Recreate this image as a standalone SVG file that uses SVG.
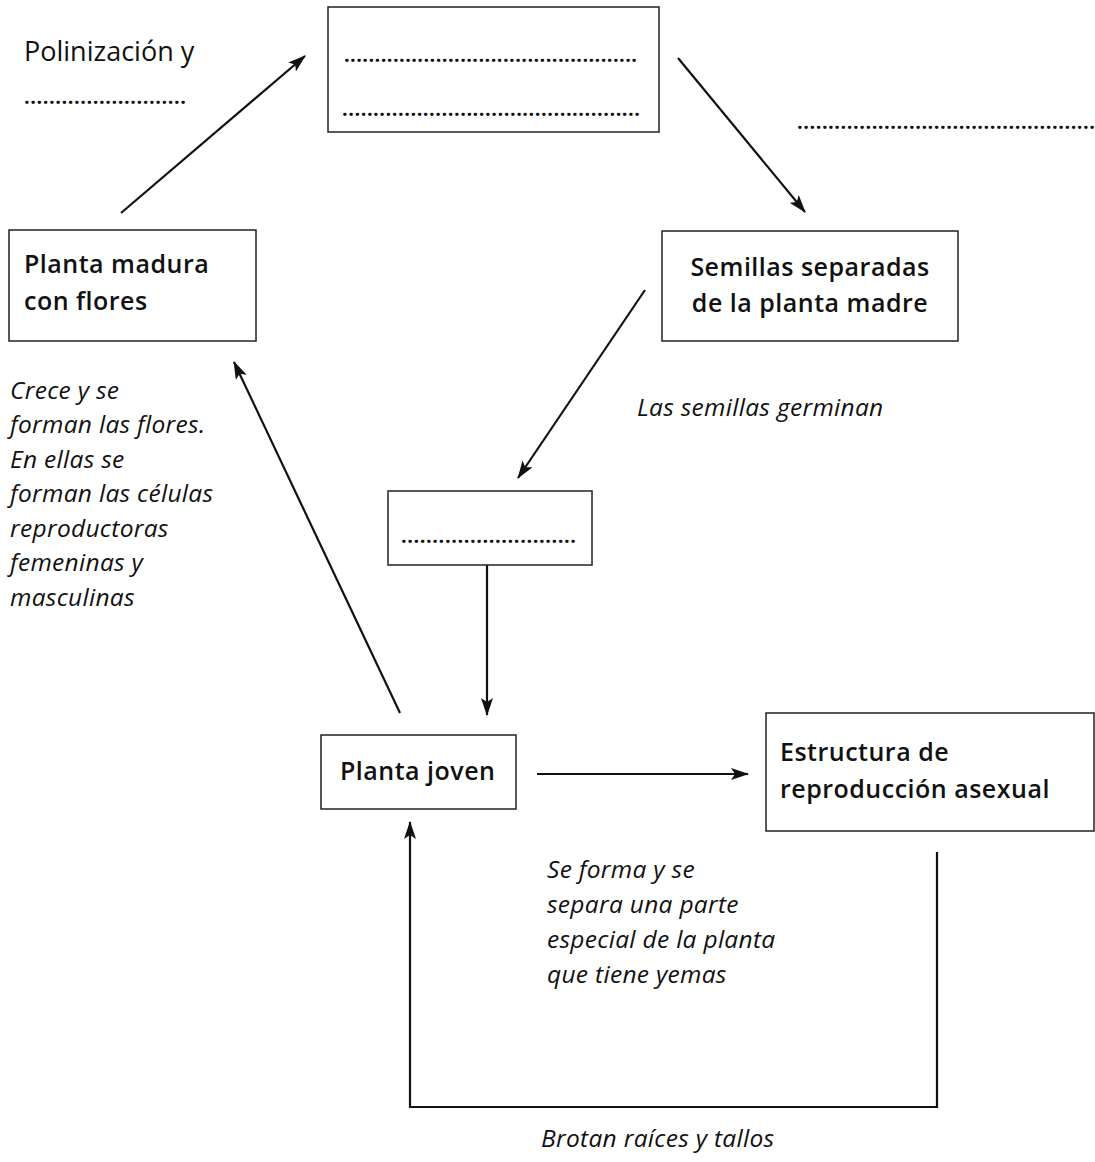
<svg xmlns="http://www.w3.org/2000/svg" width="1095" height="1162" viewBox="0 0 1095 1162">
<style>
.box{fill:#fff;stroke:#222;stroke-width:1.5}
.b{font-family:"Open Sans","Noto Sans",sans-serif;font-weight:600;font-size:25px;fill:#111;letter-spacing:0.5px}
.i{font-family:"Open Sans","Noto Sans",sans-serif;font-style:italic;font-size:24.5px;fill:#111;letter-spacing:0.3px}
.r{font-family:"Open Sans","Noto Sans",sans-serif;font-size:27px;fill:#111}
.d{font-family:"Open Sans","Noto Sans",sans-serif;font-weight:bold;font-size:20px;fill:#111}
.c{fill:none;stroke:#111;stroke-width:2.2}
</style>
<defs>
<marker id="ah" markerUnits="userSpaceOnUse" markerWidth="18" markerHeight="12" refX="17" refY="6" orient="auto">
<path d="M0,0 L18,6 L0,12 L4,6 z" fill="#111"/>
</marker>
</defs>
<g id="connectors">
<line class="c" x1="121" y1="213" x2="305" y2="56" marker-end="url(#ah)"/>
<line class="c" x1="678" y1="58" x2="805" y2="212" marker-end="url(#ah)"/>
<line class="c" x1="645" y1="290" x2="518" y2="478" marker-end="url(#ah)"/>
<line class="c" x1="487" y1="565" x2="487" y2="715" marker-end="url(#ah)"/>
<line class="c" x1="400" y1="713" x2="234" y2="362" marker-end="url(#ah)"/>
<line class="c" x1="537" y1="774" x2="748" y2="774" marker-end="url(#ah)"/>
<polyline class="c" points="937,852 937,1107 410,1107 410,822" marker-end="url(#ah)"/>
</g>
<g id="label-polinizacion">
<text class="r" x="24" y="61">Polinización y</text>
<text class="d" x="24" y="104" textLength="162" lengthAdjust="spacing">..........................</text>
</g>
<g id="node-top">
<rect class="box" x="328" y="7" width="331" height="125"/>
<text class="d" x="344" y="62" textLength="293" lengthAdjust="spacing">................................................</text>
<text class="d" x="342" y="116" textLength="298" lengthAdjust="spacing">................................................</text>
</g>
<g id="label-right-dots">
<text class="d" x="797" y="129" textLength="298" lengthAdjust="spacing">................................................</text>
</g>
<g id="node-planta-madura">
<rect class="box" x="9" y="230" width="247" height="111"/>
<text class="b" x="24" y="273">Planta madura</text>
<text class="b" x="24" y="310">con flores</text>
</g>
<g id="node-semillas">
<rect class="box" x="662" y="231" width="296" height="110"/>
<text class="b" x="810" y="276" text-anchor="middle">Semillas separadas</text>
<text class="b" x="810" y="312" text-anchor="middle">de la planta madre</text>
</g>
<g id="label-germinan">
<text class="i" x="637" y="416">Las semillas germinan</text>
</g>
<g id="label-crece">
<text class="i" x="10" y="399">Crece y se</text>
<text class="i" x="10" y="433">forman las flores.</text>
<text class="i" x="10" y="468">En ellas se</text>
<text class="i" x="10" y="502">forman las células</text>
<text class="i" x="10" y="537">reproductoras</text>
<text class="i" x="10" y="571">femeninas y</text>
<text class="i" x="10" y="606">masculinas</text>
</g>
<g id="node-small">
<rect class="box" x="388" y="491" width="204" height="74"/>
<text class="d" x="401" y="543" textLength="175" lengthAdjust="spacing">............................</text>
</g>
<g id="node-planta-joven">
<rect class="box" x="321" y="735" width="195" height="74"/>
<text class="b" x="340" y="780">Planta joven</text>
</g>
<g id="node-estructura">
<rect class="box" x="766" y="713" width="328" height="118"/>
<text class="b" x="780" y="761">Estructura de</text>
<text class="b" x="780" y="798">reproducción asexual</text>
</g>
<g id="label-se-forma">
<text class="i" x="547" y="878">Se forma y se</text>
<text class="i" x="547" y="913">separa una parte</text>
<text class="i" x="547" y="948">especial de la planta</text>
<text class="i" x="547" y="983">que tiene yemas</text>
</g>
<g id="label-brotan">
<text class="i" x="541" y="1147">Brotan raíces y tallos</text>
</g>
</svg>
